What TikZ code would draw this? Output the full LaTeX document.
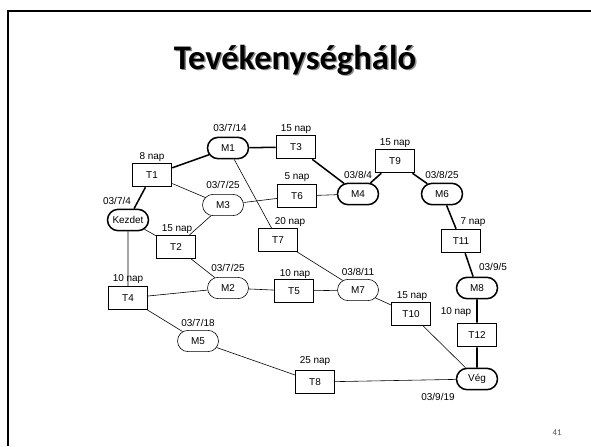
\documentclass[tikz,border=0pt]{standalone}
\usepackage{fontspec}
\setmainfont{Liberation Sans}
\newfontfamily\titlefont{Carlito}
\usetikzlibrary{shapes.misc}

\begin{document}
\begin{tikzpicture}[x=0.03cm,y=-0.03cm,
    task/.style={draw,rectangle,minimum width=1.17cm,minimum height=0.69cm,inner sep=0pt,
      font=\fontsize{8.5}{10}\selectfont},
    mile/.style={draw,rounded rectangle,minimum width=1.23cm,minimum height=0.64cm,inner sep=0pt,
      font=\fontsize{8.5}{10}\selectfont},
    crit/.style={line width=1.3pt},
    weak/.style={line width=0.5pt},
    note/.style={inner sep=0pt,font=\fontsize{8.5}{10}\selectfont}]
  \useasboundingbox (0,0) rectangle (591,446);

  % slide frame and title
  \draw[line width=1.4pt] (8,446) -- (8,11) -- (591,11);
  \node[anchor=base,text=black!45] at (296.5,70.5) {\titlefont\bfseries\fontsize{29.5}{34}\selectfont Tevékenységháló};
  \node[anchor=base] (title) at (295,69) {\titlefont\bfseries\fontsize{29.5}{34}\selectfont Tevékenységháló};
  \node[text=black!70] (page) at (557,433) {\titlefont\fontsize{7.5}{9}\selectfont 41};

  % critical path
  \node[mile,crit] (kezdet) at (128,220) {Kezdet};
  \node[task,crit] (t1) at (152,175) {T1};
  \node[mile,crit] (m1) at (228,148) {M1};
  \node[task,crit] (t3) at (296,147) {T3};
  \node[mile,crit] (m4) at (358,194) {M4};
  \node[task,crit] (t9) at (395,161) {T9};
  \node[mile,crit] (m6) at (442,194) {M6};
  \node[task,crit] (t11) at (461,241) {T11};
  \node[mile,crit] (m8) at (477,288) {M8};
  \node[task,crit] (t12) at (477,335) {T12};
  \node[mile,crit] (veg) at (477,379) {Vég};

  % other nodes
  \node[mile,weak] (m3) at (223,205) {M3};
  \node[task,weak] (t2) at (176,247) {T2};
  \node[task,weak] (t6) at (297,196) {T6};
  \node[task,weak] (t7) at (278,240) {T7};
  \node[task,weak] (t4) at (128,298) {T4};
  \node[mile,weak] (m2) at (228,288) {M2};
  \node[task,weak] (t5) at (294,291) {T5};
  \node[mile,weak] (m7) at (358,290) {M7};
  \node[task,weak] (t10) at (411,314) {T10};
  \node[mile,weak] (m5) at (198,341) {M5};
  \node[task,weak] (t8) at (315,382) {T8};

  % labels
  \node[note] at (117,201) {03/7/4};
  \node[note] at (152,157) {8 nap};
  \node[note] at (230,128) {03/7/14};
  \node[note] at (296,129) {15 nap};
  \node[note] at (358,175) {03/8/4};
  \node[note] at (395,143) {15 nap};
  \node[note] at (442,175) {03/8/25};
  \node[note] at (473,222) {7 nap};
  \node[note] at (493,267) {03/9/5};
  \node[note] at (456,312) {10 nap};
  \node[note] at (438,397) {03/9/19};
  \node[note] at (223,185) {03/7/25};
  \node[note] at (177,229) {15 nap};
  \node[note] at (297,177) {5 nap};
  \node[note] at (290,222) {20 nap};
  \node[note] at (128,279) {10 nap};
  \node[note] at (228,268) {03/7/25};
  \node[note] at (295,274) {10 nap};
  \node[note] at (358,272) {03/8/11};
  \node[note] at (412,296) {15 nap};
  \node[note] at (198,323) {03/7/18};
  \node[note] at (315,361) {25 nap};

  % connectors
  \draw[crit] (kezdet) -- (t1) -- (m1) -- (t3) -- (m4) -- (t9) -- (m6) -- (t11) -- (m8) -- (t12) -- (veg);
  \draw[weak] (t1) -- (m3) -- (t2);
  \draw[weak] (m3) -- (t6) -- (m4);
  \draw[weak] (kezdet) -- (t2) -- (m2);
  \draw[weak] (kezdet) -- (t4);
  \draw[weak] (m1) -- (t7) -- (m7);
  \draw[weak] (t4) -- (m2) -- (t5) -- (m7) -- (t10) -- (veg);
  \draw[weak] (t4) -- (m5) -- (t8) -- (veg);
\end{tikzpicture}
\end{document}
